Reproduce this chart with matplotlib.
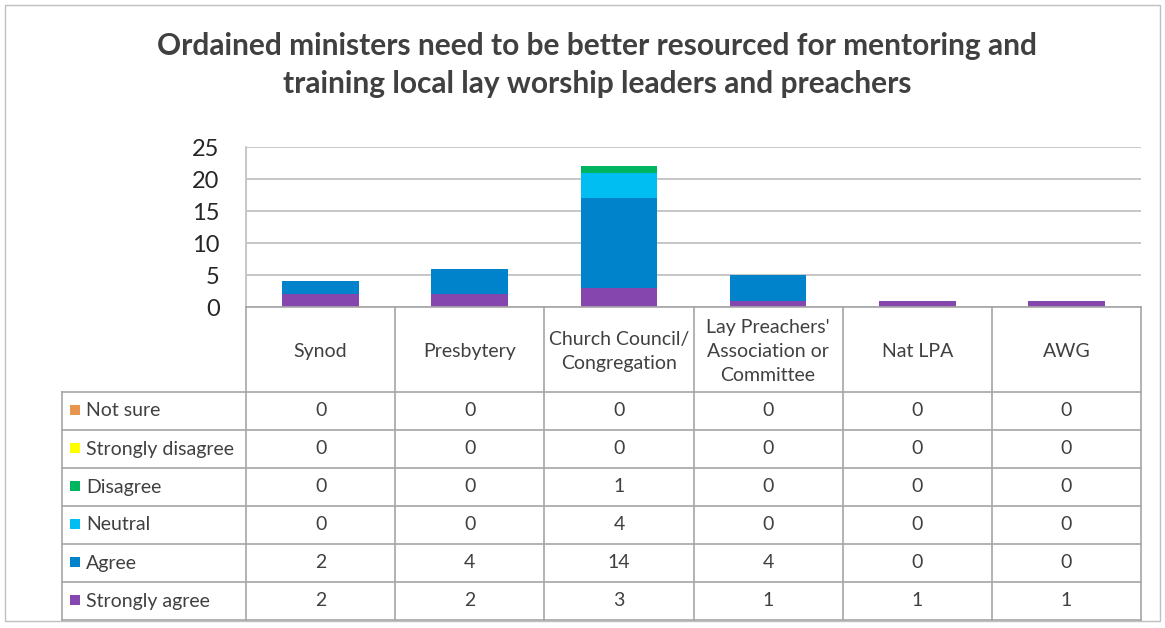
import matplotlib
matplotlib.use("Agg")
import matplotlib.pyplot as plt
from matplotlib.patches import Rectangle
import numpy as np

plt.rcParams['font.family'] = ['Lato', 'DejaVu Sans']

categories = ["Synod", "Presbytery", "Church Council/\nCongregation",
              "Lay Preachers'\nAssociation or\nCommittee", "Nat LPA", "AWG"]
series_names = ["Not sure", "Strongly disagree", "Disagree", "Neutral", "Agree", "Strongly agree"]
not_sure = [0, 0, 0, 0, 0, 0]
strongly_disagree = [0, 0, 0, 0, 0, 0]
disagree = [0, 0, 1, 0, 0, 0]
neutral = [0, 0, 4, 0, 0, 0]
agree = [2, 4, 14, 4, 0, 0]
strongly_agree = [2, 2, 3, 1, 1, 1]
colors = {"Not sure": "#E8964E", "Strongly disagree": "#FFFF00", "Disagree": "#00B55F",
          "Neutral": "#00BDF2", "Agree": "#0083CA", "Strongly agree": "#8547AD"}
yticks = [0, 5, 10, 15, 20, 25]
title = "Ordained ministers need to be better resourced for mentoring and\ntraining local lay worship leaders and preachers"

values = {"Not sure": not_sure, "Strongly disagree": strongly_disagree, "Disagree": disagree,
          "Neutral": neutral, "Agree": agree, "Strongly agree": strongly_agree}

W, H = 1165, 628
fig = plt.figure(figsize=(W / 100, H / 100), dpi=100)

def fx(px):
    return px / W

def fy(py):
    return 1 - py / H

# outer border
fig.patches.append(Rectangle((fx(5), fy(621)), fx(1160) - fx(5), fy(5) - fy(621),
                             transform=fig.transFigure, fill=False, edgecolor="#BFBFBF", lw=1))

fig.text(fx(597), fy(65), title, ha="center", va="center", fontsize=21.5, fontweight="bold",
         color="#404040", linespacing=1.45)

x0, x1, ytop, ybot = 246, 1141, 147, 307
ax = fig.add_axes([fx(x0), fy(ybot), fx(x1) - fx(x0), fy(ytop) - fy(ybot)])
n = len(categories)
x = np.arange(n)
stack_order = ["Strongly agree", "Agree", "Neutral", "Disagree", "Strongly disagree", "Not sure"]
bottom = np.zeros(n)
for s in stack_order:
    v = np.array(values[s], dtype=float)
    ax.bar(x, v, bottom=bottom, width=0.515, color=colors[s], zorder=3)
    bottom += v
ax.set_xlim(-0.5, n - 0.5)
ax.set_ylim(0, 25)
ax.set_yticks(yticks)
ax.set_yticklabels([str(t) for t in yticks], fontsize=17, color="#262626")
ax.tick_params(axis="y", length=0, pad=19)
ax.tick_params(axis="x", length=0, labelbottom=False)
ax.grid(axis="y", color="#BEBEBE", lw=1.2, zorder=0)
for sp in ["top", "right", "bottom"]:
    ax.spines[sp].set_visible(False)
ax.spines["left"].set_color("#BEBEBE")
ax.spines["left"].set_linewidth(1.2)
ax.set_facecolor("none")

# data table
col_w = (x1 - x0) / n
header_bot = 392
row_h = 38
nrows = len(series_names)
table_bot = header_bot + nrows * row_h
label_left = 62
lc = "#A6A6A6"

def hline(py, xa, xb):
    fig.add_artist(plt.Line2D([fx(xa), fx(xb)], [fy(py), fy(py)], color=lc, lw=1.2))

def vline(px, ya, yb):
    fig.add_artist(plt.Line2D([fx(px), fx(px)], [fy(ya), fy(yb)], color=lc, lw=1.2))

hline(ybot, x0, x1)
for i in range(nrows + 1):
    hline(header_bot + i * row_h, label_left, x1)
for j in range(n + 1):
    vline(x0 + j * col_w, ybot, table_bot)
vline(label_left, header_bot, table_bot)

for j, c in enumerate(categories):
    cx = x0 + (j + 0.5) * col_w
    fig.text(fx(cx), fy((ybot + header_bot) / 2 + 2), c, ha="center", va="center",
             fontsize=14, color="#404040", linespacing=1.48)

for i, s in enumerate(series_names):
    cy = header_bot + (i + 0.5) * row_h
    fig.patches.append(Rectangle((fx(70), fy(cy + 4)), fx(10), fy(0) - fy(10),
                                 transform=fig.transFigure, facecolor=colors[s], edgecolor="none"))
    fig.text(fx(86), fy(cy), s, ha="left", va="center", fontsize=14, color="#404040")
    for j, v in enumerate(values[s]):
        cx = x0 + (j + 0.5) * col_w
        fig.text(fx(cx), fy(cy), str(v), ha="center", va="center", fontsize=14, color="#404040")

fig.savefig("out.png", dpi=100, facecolor="white")
